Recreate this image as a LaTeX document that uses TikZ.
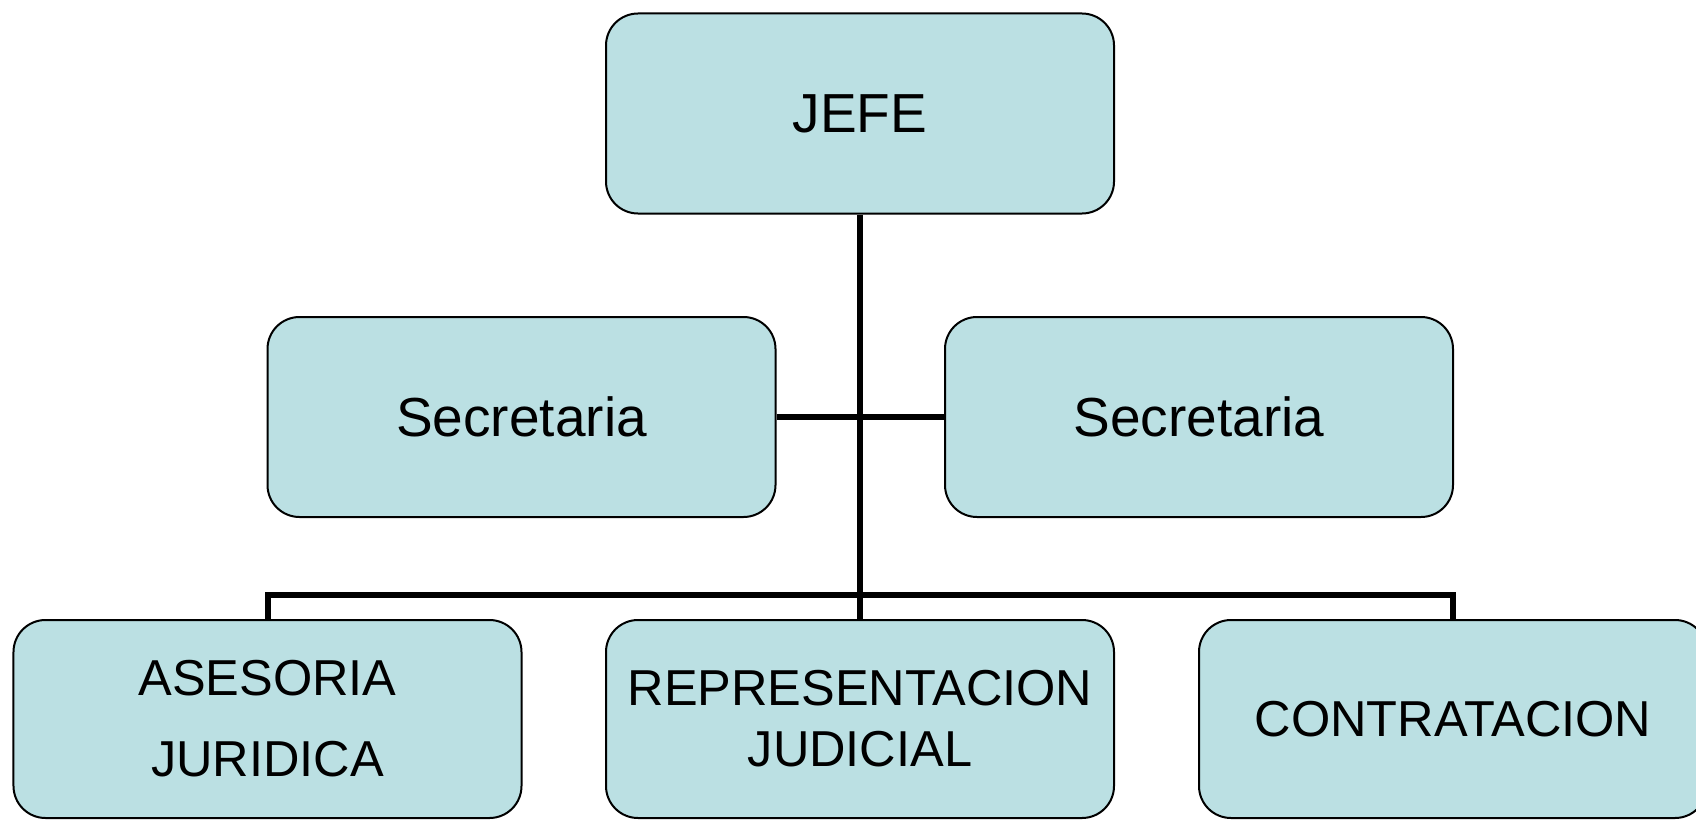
\documentclass[tikz,border=0pt]{standalone}
\usepackage{fontspec}
\setmainfont{Liberation Sans}
\definecolor{boxfill}{HTML}{BBE0E3}
\begin{document}
\begin{tikzpicture}[x=1bp,y=-1bp,
  box/.style={draw=black, line width=2bp, fill=boxfill, rounded corners=32bp,
    minimum width=508bp, minimum height=200bp, inner sep=0pt, align=center, text=black},
  bigtxt/.style={font=\fontsize{55bp}{60bp}\selectfont},
  smalltxt/.style={font=\fontsize{50.5bp}{61bp}\selectfont},
  conn/.style={draw=black, line width=6bp}]
\useasboundingbox (0,0) rectangle (1696,821);
\node[box,bigtxt] (jefe) at (860,113.5) {JEFE};
\node[box,bigtxt] (secl) at (521.5,417) {Secretaria};
\node[box,bigtxt] (secr) at (1199,417) {Secretaria};
\node[box,minimum height=198bp,font=\fontsize{50.5bp}{81bp}\selectfont] (asj) at (267.5,719) {ASESORIA\\JURIDICA};
\node[box,smalltxt,minimum height=198bp] (rep) at (860,719) {REPRESENTACION\\JUDICIAL};
\node[box,smalltxt,minimum height=198bp] (con) at (1453,719) {CONTRATACION};
\coordinate (bar) at (860,595);
\draw[conn] (jefe.south) -- (rep.north);
\draw[conn] (secl.east) -- (secr.west);
\draw[conn] (asj.north) |- (bar) -| (con.north);
\end{tikzpicture}
\end{document}
